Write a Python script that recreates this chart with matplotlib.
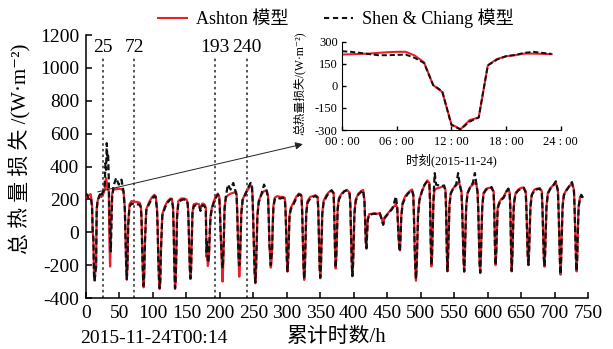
import matplotlib
matplotlib.use('Agg')
import matplotlib.pyplot as plt
from matplotlib.lines import Line2D

plt.rcParams['axes.unicode_minus'] = False
FONTS = ['Liberation Serif', 'Noto Sans CJK SC', 'DejaVu Serif']
plt.rcParams['font.family'] = FONTS

# --- inset: one day, 2015-11-24, hourly ---
day_hours = list(range(24))
day_ashton = [212, 215, 217, 219, 224, 228, 231, 231, 205, 159, 5, -42,
              -261, -295, -233, -215, 139, 182, 201, 208, 219, 219, 217, 215]
day_shen = [235, 231, 224, 215, 208, 208, 210, 212, 189, 155, 5, -37,
            -266, -296, -243, -215, 139, 178, 201, 210, 224, 231, 224, 217]

# --- main series: cumulative hours (first day = inset day) ---
hours = day_hours + [
    24, 26, 28, 29, 30, 31, 32, 33, 34, 35, 36, 37, 38, 39, 41, 45, 49, 53, 56,
    58, 59, 60, 61, 62, 63, 65, 68, 72, 76, 80,
    82, 83, 84, 85, 86, 87, 88, 90, 94, 98, 102,
    104, 106, 107, 108, 109, 110, 111, 112, 114, 118, 122, 126,
    128, 130, 131, 132, 133, 134, 135, 136, 138, 142, 146, 150,
    152, 153, 154, 155, 156, 157, 158, 159, 161, 165, 169, 171, 174, 177,
    179, 180, 181, 182, 183, 184, 185, 186, 188, 191, 194, 197,
    199, 200, 201, 202, 203, 204, 205, 206, 207, 209, 212, 216, 220, 224,
    225, 226, 227, 228, 229, 230, 231, 232, 234, 238, 242, 246,
    248, 249, 250, 251, 252, 253, 254, 255, 256, 258, 262, 266, 270,
    272, 273, 274, 275, 276, 277, 278, 279, 280, 282, 286, 290, 294, 297,
    298, 299, 300, 301, 302, 303, 304, 306, 310, 314, 318, 321,
    322, 323, 324, 325, 326, 327, 328, 329, 331, 335, 339, 343, 346,
    347, 348, 349, 350, 351, 352, 353, 355, 359, 363, 367, 370,
    371, 372, 373, 374, 375, 376, 378, 382, 386, 390, 394,
    395, 396, 397, 398, 399, 400, 401, 403, 407, 411, 414, 416,
    417, 418, 419, 420, 421, 423, 427, 431, 435, 439, 442, 444, 446, 450, 454, 458, 461, 463, 465, 466,
    467, 468, 469, 470, 471, 473, 477, 481, 485, 487,
    489, 490, 491, 492, 493, 494, 495, 496, 498, 502, 506, 510, 513,
    514, 515, 516, 517, 518, 519, 520, 521, 523, 527, 531, 535, 537,
    538, 539, 540, 541, 542, 543, 545, 549, 553, 556, 558, 561,
    562, 563, 564, 565, 566, 567, 568, 570, 574, 578, 581, 583, 585,
    586, 587, 588, 589, 590, 591, 592, 594, 598, 602, 606, 609,
    610, 611, 612, 613, 614, 615, 617, 620, 624, 628, 631, 633,
    634, 635, 636, 637, 638, 639, 640, 642, 646, 650, 654, 657,
    658, 659, 660, 661, 662, 663, 664, 666, 670, 674, 678, 681,
    682, 683, 684, 685, 686, 687, 688, 690, 694, 698, 702, 705,
    706, 707, 708, 709, 710, 711, 712, 714, 718, 722, 726, 729,
    730, 731, 732, 733, 734, 735, 736, 738, 740, 742,
]
ashton = day_ashton + [
    225, 235, 260, 300, 330, 300, 262, 258, 250, -60, -208, -50, 120, 230, 258, 262, 265, 262, 250,
    150, -20, -200, -289, -200, 50, 170, 190, 185, 185, 180,
    160, 80, -100, -250, -335, -260, -60, 140, 180, 210, 228,
    220, 150, 40, -150, -280, -345, -300, -100, 110, 160, 190, 205,
    205, 160, 20, -200, -345, -300, -120, 100, 190, 205, 205, 200,
    180, 100, -60, -200, -285, -230, -60, 120, 170, 175, 170, 140, 175, 170,
    150, -150, -120, -205, -180, -130, 0, 100, 150, 190, 220, 235,
    220, 150, 20, -100, -200, -300, -200, -20, 150, 210, 225, 235, 240, 245,
    230, 120, -40, -180, -270, -200, -30, 120, 200, 235, 260, 285,
    280, 200, 60, -100, -250, -310, -240, -60, 100, 190, 230, 250, 255,
    220, 100, -60, -150, -215, -190, -100, 50, 160, 210, 220, 215, 215, 210,
    150, 20, -150, -240, -180, -40, 100, 150, 180, 215, 235, 230,
    220, 130, -50, -200, -290, -230, -50, 120, 190, 215, 220, 225, 215,
    150, -20, -200, -280, -210, -40, 120, 190, 225, 245, 255, 240,
    100, -100, -220, -150, 0, 150, 210, 235, 250, 258, 240,
    160, 0, -180, -268, -200, -40, 120, 200, 235, 250, 258, 200,
    80, -50, -100, 0, 80, 110, 112, 115, 112, 117, 80, 46, 90, 110, 130, 150, 160, 170, 150, 60,
    -20, -90, -110, -20, 100, 180, 220, 240, 255, 260,
    230, 100, -80, -220, -295, -220, -60, 100, 200, 250, 290, 315, 300,
    200, -50, -208, -150, 20, 180, 240, 255, 265, 270, 275, 280, 260,
    150, -100, -238, -150, 20, 170, 240, 270, 285, 300, 295, 250,
    150, 0, -150, -240, -150, 20, 160, 240, 275, 290, 300, 295, 250,
    150, -20, -180, -248, -150, 20, 160, 240, 265, 270, 270, 250,
    130, -80, -200, -120, 20, 150, 180, 200, 215, 250, 265, 240,
    150, -80, -238, -150, 20, 150, 200, 240, 260, 270, 272, 250,
    150, 0, -140, -200, -120, 30, 160, 230, 260, 265, 268, 250,
    150, 0, -150, -210, -130, 30, 160, 240, 270, 285, 300, 260,
    150, 0, -160, -258, -160, 20, 160, 230, 260, 280, 300, 260,
    150, 0, -150, -238, -150, 30, 160, 210, 225, 215,
]
shen = day_shen + [
    235, 250, 290, 420, 380, 542, 440, 480, 330, 100, -40, -117, 30, 210, 280, 330, 290, 320, 250,
    140, -30, -200, -285, -190, 40, 155, 175, 170, 170, 168,
    150, 70, -110, -250, -325, -250, -70, 130, 170, 200, 220,
    215, 140, 30, -160, -280, -340, -290, -110, 100, 150, 180, 200,
    200, 150, 10, -210, -340, -290, -130, 90, 180, 195, 200, 195,
    170, 90, -70, -210, -280, -220, -70, 110, 160, 165, 160, 130, 165, 160,
    140, -120, -60, -185, -170, -100, 10, 90, 140, 180, 210, 230,
    215, 140, 10, -80, -150, -220, -170, -30, 140, 220, 290, 260, 300, 240,
    225, 110, -50, -150, -200, -170, -40, 110, 195, 230, 270, 300,
    275, 190, 50, -110, -250, -305, -230, -70, 90, 180, 230, 290, 250,
    210, 90, -80, -120, -200, -150, -120, 40, 150, 200, 210, 205, 210, 200,
    140, 10, -160, -235, -170, -50, 90, 140, 170, 205, 230, 225,
    215, 120, -60, -210, -285, -220, -60, 110, 180, 205, 215, 220, 210,
    140, -30, -210, -275, -200, -50, 110, 180, 215, 240, 255, 235,
    90, -110, -215, -140, -10, 140, 200, 230, 250, 255, 230,
    150, -10, -190, -265, -190, -50, 110, 190, 230, 245, 255, 190,
    75, -60, -96, -10, 75, 105, 110, 113, 110, 115, 75, 46, 85, 105, 125, 145, 190, 218, 150, 50,
    -30, -95, -117, -30, 90, 170, 210, 235, 250, 255,
    225, 90, -90, -210, -285, -210, -70, 90, 190, 250, 290, 310, 290,
    190, -60, -200, -140, 10, 170, 280, 360, 290, 285, 280, 285, 250,
    140, -110, -235, -140, 10, 160, 235, 270, 290, 360, 300, 240,
    140, -10, -160, -238, -140, 10, 150, 235, 275, 300, 360, 300, 240,
    140, -30, -190, -245, -140, 10, 150, 235, 260, 265, 275, 240,
    120, -90, -198, -110, 10, 140, 170, 195, 210, 245, 265, 230,
    140, -90, -235, -140, 10, 140, 190, 235, 255, 265, 270, 240,
    140, -10, -150, -198, -110, 20, 150, 225, 255, 262, 265, 240,
    140, -10, -160, -205, -120, 20, 150, 235, 265, 285, 310, 250,
    140, -10, -170, -255, -150, 10, 150, 225, 255, 280, 305, 250,
    140, -10, -160, -235, -140, 20, 150, 205, 228, 210,
]

marked_hours = [25, 72, 193, 240]
inset_ticks = [0, 6, 12, 18, 24]
inset_ticklabels = ['00 : 00', '06 : 00', '12 : 00', '18 : 00', '24 : 00']

RED = '#e8202a'
DASH = (0, (2.7, 1.4))

fig = plt.figure(figsize=(6.13, 3.49), dpi=100)
ax = fig.add_axes([0.1403, 0.1461, 0.8189, 0.7536])

ax.plot(hours, ashton, color=RED, lw=1.6, zorder=3)
ax.plot(hours, shen, color='#111111', lw=1.6, ls=DASH, zorder=4)

# marked hours: dotted verticals with labels
ax.vlines(marked_hours, -400, 1067, colors='#555555', linestyles=(0, (1.3, 1.6)), lw=1.4, zorder=2)
for h in marked_hours:
    ax.text(h, 1121, str(h), ha='center', va='center', fontsize=14)

ax.set_xlim(0, 750)
ax.set_ylim(-400, 1200)
ax.set_xticks(range(0, 751, 50))
ax.set_yticks(range(-400, 1201, 200))
for s in ['top', 'right']:
    ax.spines[s].set_visible(False)
for s in ['left', 'bottom']:
    ax.spines[s].set_linewidth(1.1)
ax.tick_params(direction='in', length=4, width=1.1, labelsize=14)
ax.tick_params(axis='y', pad=5)
ax.tick_params(axis='x', pad=5)

ax.set_ylabel('总 热 量 损 失 /(W·m⁻²)', fontsize=15)
ax.yaxis.set_label_coords(-0.131, 0.567)
ax.yaxis.label.set_va('center')
ax.set_xlabel('累计时数/h', fontsize=15)
ax.xaxis.set_label_coords(0.5, -0.15)
ax.xaxis.label.set_va('center')
fig.text(0.1305, 0.0315, '2015-11-24T00:14', fontsize=14, ha='left', va='center')

# arrow from the first day to the inset
ax.annotate('', xy=(328, 540), xytext=(13.5, 242),
            arrowprops=dict(arrowstyle='-|>', color='#222222', lw=0.7, mutation_scale=11),
            zorder=5)

# legend
handles = [Line2D([], [], color=RED, lw=1.5),
           Line2D([], [], color='#111111', lw=1.5, ls=(0, (2.5, 1.8)))]
fig.legend(handles, ['Ashton 模型', 'Shen & Chiang 模型'], loc='center',
           bbox_to_anchor=(0.548, 0.948), ncol=2, frameon=False, fontsize=13,
           handlelength=1.6, handletextpad=0.5, columnspacing=2.0)

# inset
ins = fig.add_axes([0.558, 0.6275, 0.3567, 0.2531])
ins.plot(day_hours, day_ashton, color=RED, lw=1.5)
ins.plot(day_hours, day_shen, color='#111111', lw=1.4, ls=DASH)
ins.set_xlim(0, 24)
ins.set_ylim(-300, 300)
ins.set_xticks(inset_ticks)
ins.set_xticklabels(inset_ticklabels)
ins.set_yticks([-300, -150, 0, 150, 300])
for s in ['top', 'right']:
    ins.spines[s].set_visible(False)
ins.tick_params(direction='in', length=3, width=1, labelsize=9, pad=3)
ins.tick_params(axis='x', pad=4)
ins.set_ylabel('总热量损失/(W·m⁻²)', fontsize=8.5)
ins.yaxis.set_label_coords(-0.195, 0.53)
ins.yaxis.label.set_va('center')
ins.set_xlabel('时刻(2015-11-24)', fontsize=9)
ins.xaxis.set_label_coords(0.5, -0.34)
ins.xaxis.label.set_va('center')

fig.savefig('out.png', dpi=100)
